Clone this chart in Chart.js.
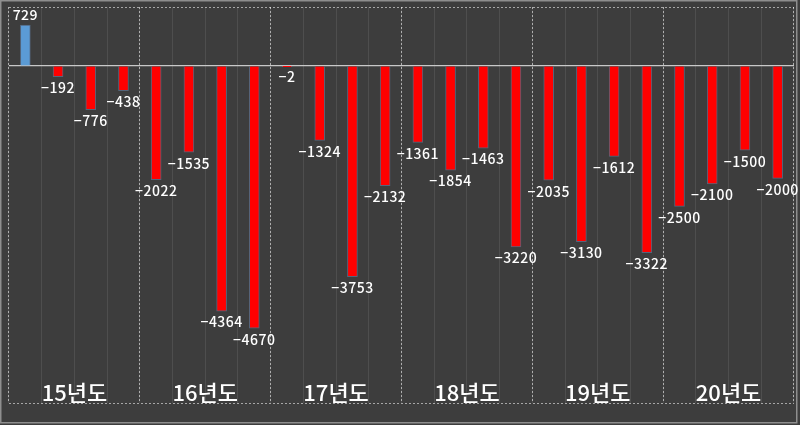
<!DOCTYPE html>
<html>
<head>
<meta charset="utf-8">
<script src="https://cdn.jsdelivr.net/npm/chart.js@4/dist/chart.umd.min.js"></script>
<style>
  html, body { margin: 0; padding: 0; background: #3d3d3d; }
  #wrap { width: 800px; height: 425px; }
</style>
</head>
<body>
<div id="wrap"><canvas id="myChart" width="800" height="425"></canvas></div>
<script>
// 연도 / 분기 라벨
const years = ["15년도", "16년도", "17년도", "18년도", "19년도", "20년도"];
const quarters = [
  "15-1", "15-2", "15-3", "15-4",
  "16-1", "16-2", "16-3", "16-4",
  "17-1", "17-2", "17-3", "17-4",
  "18-1", "18-2", "18-3", "18-4",
  "19-1", "19-2", "19-3", "19-4",
  "20-1", "20-2", "20-3", "20-4"
];
// 분기별 값
const values = [
  729, -192, -776, -438,
  -2022, -1535, -4364, -4670,
  -2, -1324, -3753, -2132,
  -1361, -1854, -1463, -3220,
  -2035, -3130, -1612, -3322,
  -2500, -2100, -1500, -2000
];
const yMin = -6000;
const yMax = 1050;

// 배경 + 바깥 테두리
const bgPlugin = {
  id: "bg",
  beforeDraw(chart) {
    const ctx = chart.ctx;
    ctx.save();
    ctx.fillStyle = "#3d3d3d";
    ctx.fillRect(0, 0, chart.width, chart.height);
    ctx.strokeStyle = "#8e8e8e";
    ctx.lineWidth = 1.5;
    ctx.strokeRect(0.75, 0.75, 796, 422);
    ctx.restore();
  }
};

// 막대 값 표시
const labelPlugin = {
  id: "valueLabels",
  afterDatasetsDraw(chart) {
    const ctx = chart.ctx;
    const meta = chart.getDatasetMeta(0);
    ctx.save();
    ctx.font = "500 14px 'Noto Sans CJK KR', 'Noto Sans', sans-serif";
    ctx.letterSpacing = "0.5px";
    ctx.fillStyle = "#ffffff";
    ctx.textAlign = "center";
    meta.data.forEach((bar, i) => {
      const v = values[i];
      if (v >= 0) {
        ctx.textBaseline = "bottom";
        ctx.fillText(String(v), bar.x, bar.y - 3);
      } else {
        ctx.textBaseline = "top";
        ctx.fillText(String(v).replace("-", "−"), bar.x, bar.y + 4);
      }
    });
    ctx.restore();
  }
};

const config = {
  type: "bar",
  data: {
    labels: quarters,
    datasets: [{
      data: values,
      backgroundColor: values.map((v) => v > 0 ? "#5b9bd5" : "#ff0000"),
      borderColor: "rgba(110,150,200,0.45)",
      borderWidth: 1,
      barThickness: 10
    }]
  },
  options: {
    responsive: false,
    animation: false,
    layout: { padding: { left: 9, right: 6, top: 7, bottom: 22 } },
    plugins: {
      legend: { display: false },
      tooltip: { enabled: false }
    },
    scales: {
      x: {
        position: "bottom",
        offset: true,
        ticks: { display: false },
        border: { display: false },
        grid: { offset: true, drawTicks: false, color: "rgba(255,255,255,0.09)", lineWidth: 1 }
      },
      x2: {
        type: "category",
        labels: years,
        position: "bottom",
        offset: true,
        border: { display: false, dash: [2, 2] },
        grid: { offset: true, drawTicks: false, color: "rgba(255,255,255,0.55)", lineWidth: 1 },
        ticks: {
          color: "#ffffff",
          padding: -24,
          maxRotation: 0,
          font: { family: "'Noto Sans CJK KR', sans-serif", size: 22, weight: "500" }
        }
      },
      y: {
        min: yMin,
        max: yMax,
        afterBuildTicks(axis) {
          axis.ticks = [{ value: yMin }, { value: 0 }, { value: yMax }];
        },
        ticks: { display: false },
        border: {
          display: false,
          dash: (ctx) => ctx.tick && ctx.tick.value === 0 ? [] : [2, 2]
        },
        grid: {
          drawTicks: false,
          color: (ctx) => ctx.tick && ctx.tick.value === 0 ? "#c8c8c8" : "rgba(255,255,255,0.55)",
          lineWidth: (ctx) => ctx.tick && ctx.tick.value === 0 ? 1.2 : 1
        }
      }
    }
  },
  plugins: [bgPlugin, labelPlugin]
};

new Chart(document.getElementById("myChart"), config);
</script>
</body>
</html>
